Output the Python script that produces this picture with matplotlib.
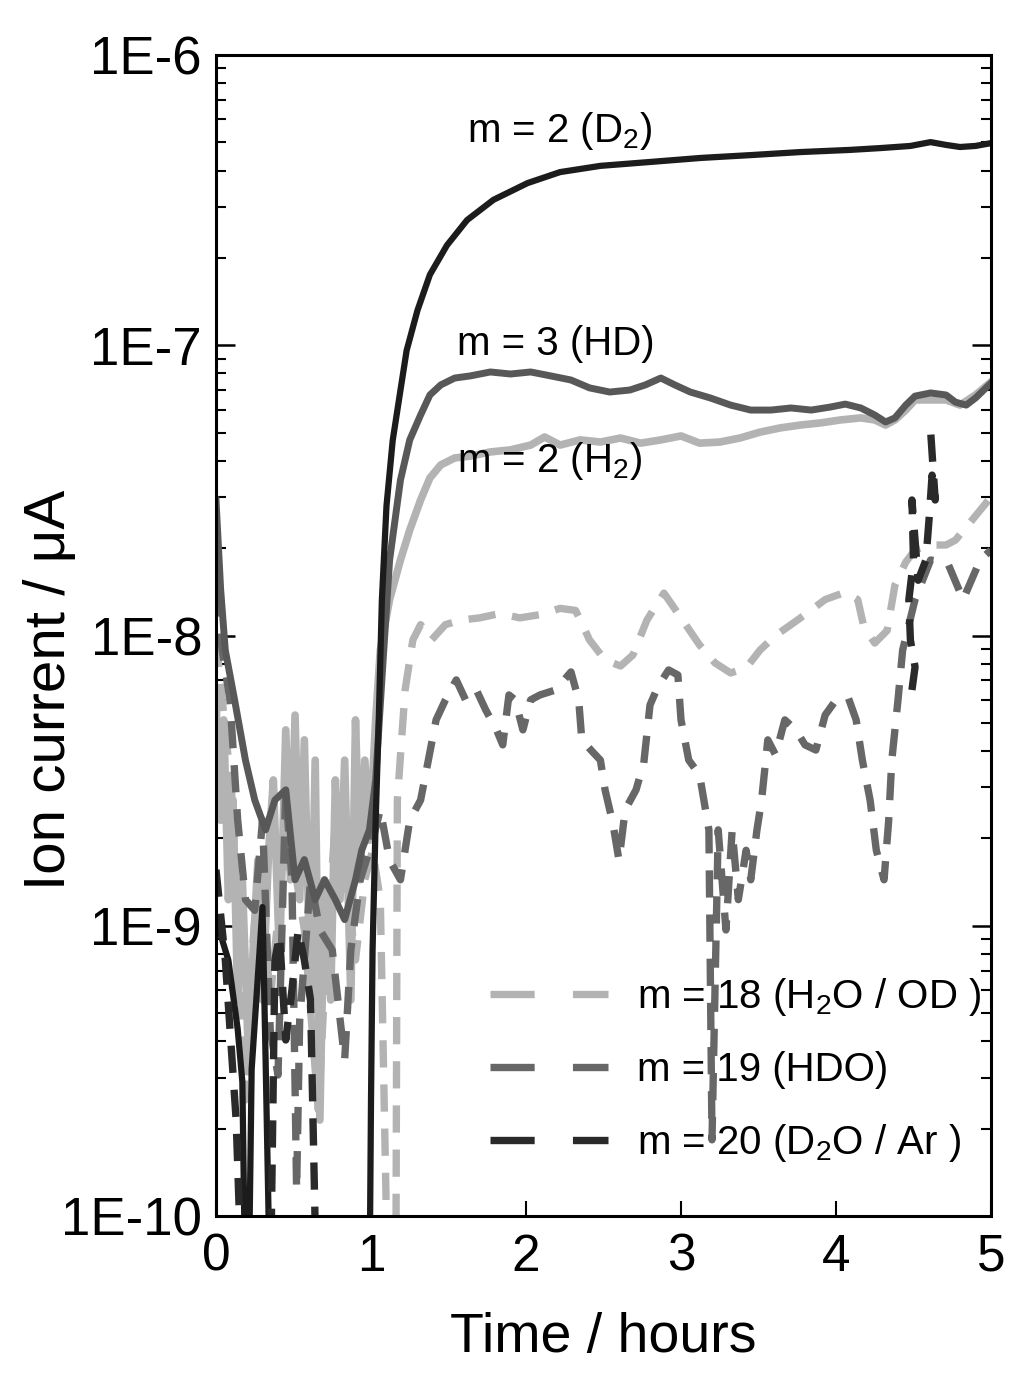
import numpy as np
import matplotlib
matplotlib.use("Agg")
import matplotlib.pyplot as plt

plt.rcParams['font.family'] = ['Liberation Sans', 'DejaVu Sans']
plt.rcParams['mathtext.fontset'] = 'custom'
plt.rcParams['mathtext.rm'] = 'Liberation Sans'
plt.rcParams['mathtext.it'] = 'Liberation Sans:italic'

# time in hours, ion current in uA (values below 1E-10 sit off the bottom)
d2_t = [0.00, 0.08, 0.14, 0.17, 0.19, 0.21, 0.23, 0.30, 0.32, 0.35, 0.99, 1.00, 1.01, 1.03,
        1.05, 1.07, 1.10, 1.14, 1.19, 1.23, 1.30, 1.38, 1.49, 1.62, 1.79, 2.01, 2.22, 2.48,
        2.80, 3.13, 3.45, 3.77, 4.09, 4.29, 4.48, 4.61, 4.71, 4.80, 4.90, 5.00]
d2_i = [1.05e-9, 7.6e-10, 4.4e-10, 2.9e-10, 5e-11, 5e-11, 3.2e-10, 1.16e-9, 3.45e-10, 5e-11,
        5e-11, 2.5e-10, 8.2e-10, 2.3e-9, 5.1e-9, 1.32e-8, 2.8e-8, 4.7e-8, 7.0e-8, 9.6e-8,
        1.32e-7, 1.75e-7, 2.21e-7, 2.70e-7, 3.17e-7, 3.62e-7, 3.95e-7, 4.15e-7, 4.28e-7,
        4.42e-7, 4.52e-7, 4.63e-7, 4.71e-7, 4.78e-7, 4.86e-7, 5.01e-7, 4.90e-7, 4.82e-7,
        4.86e-7, 4.97e-7]

hd_t = [0.00, 0.03, 0.06, 0.12, 0.19, 0.25, 0.32, 0.38, 0.45, 0.51, 0.57, 0.64, 0.70, 0.77,
        0.83, 0.90, 0.94, 0.99, 1.03, 1.07, 1.12, 1.19, 1.25, 1.32, 1.38, 1.45, 1.54, 1.64,
        1.77, 1.90, 2.03, 2.16, 2.29, 2.41, 2.54, 2.67, 2.77, 2.87, 2.96, 3.06, 3.19, 3.32,
        3.45, 3.58, 3.71, 3.84, 3.96, 4.06, 4.16, 4.25, 4.32, 4.38, 4.45, 4.51, 4.61, 4.71,
        4.77, 4.84, 4.90, 5.00]
hd_i = [2.93e-8, 1.44e-8, 8.9e-9, 6.0e-9, 3.72e-9, 2.71e-9, 2.14e-9, 2.71e-9, 2.94e-9, 1.44e-9,
        1.69e-9, 1.23e-9, 1.44e-9, 1.23e-9, 1.05e-9, 1.44e-9, 1.82e-9, 2.14e-9, 3.18e-9, 7.03e-9,
        1.82e-8, 3.43e-8, 4.72e-8, 5.75e-8, 6.74e-8, 7.30e-8, 7.71e-8, 7.84e-8, 8.09e-8, 7.96e-8,
        8.09e-8, 7.84e-8, 7.59e-8, 7.13e-8, 6.90e-8, 7.01e-8, 7.30e-8, 7.71e-8, 7.30e-8, 6.90e-8,
        6.58e-8, 6.22e-8, 5.98e-8, 5.98e-8, 6.08e-8, 5.98e-8, 6.12e-8, 6.27e-8, 6.08e-8, 5.75e-8,
        5.44e-8, 5.62e-8, 6.22e-8, 6.68e-8, 6.85e-8, 6.74e-8, 6.37e-8, 6.22e-8, 6.58e-8, 7.41e-8]

h2_t = [0.00, 0.03, 0.05, 0.08, 0.11, 0.14, 0.17, 0.21, 0.24, 0.27, 0.30, 0.34, 0.37, 0.41,
        0.45, 0.48, 0.51, 0.54, 0.57, 0.61, 0.64, 0.67, 0.70, 0.74, 0.77, 0.80, 0.83, 0.87,
        0.90, 0.93, 0.96, 0.99, 1.03, 1.06, 1.12, 1.19, 1.25, 1.32, 1.38, 1.45, 1.54, 1.64,
        1.77, 1.90, 2.03, 2.12, 2.22, 2.35, 2.48, 2.61, 2.74, 2.87, 3.00, 3.12, 3.25, 3.38,
        3.51, 3.64, 3.77, 3.90, 4.03, 4.16, 4.25, 4.32, 4.38, 4.45, 4.51, 4.61, 4.71, 4.80,
        4.90, 5.00]
h2_i = [6.0e-9, 2.31e-9, 5.12e-9, 1.23e-9, 2.71e-9, 5.55e-10, 1.44e-9, 3.45e-10, 8.25e-10,
        1.68e-9, 5.55e-10, 1.82e-9, 3.18e-9, 7.62e-10, 4.73e-9, 1.44e-9, 5.32e-9, 1.23e-9,
        4.37e-9, 5.55e-10, 3.72e-9, 2.14e-10, 1.44e-9, 5.55e-10, 3.18e-9, 1.23e-9, 3.72e-9,
        5.55e-10, 5.12e-9, 1.44e-9, 3.72e-9, 1.97e-9, 5.12e-9, 8.91e-9, 1.33e-8, 1.82e-8,
        2.31e-8, 2.93e-8, 3.49e-8, 3.87e-8, 4.09e-8, 4.15e-8, 4.29e-8, 4.36e-8, 4.53e-8,
        4.83e-8, 4.53e-8, 4.72e-8, 4.64e-8, 4.79e-8, 4.60e-8, 4.72e-8, 4.87e-8, 4.60e-8,
        4.64e-8, 4.79e-8, 5.02e-8, 5.19e-8, 5.31e-8, 5.40e-8, 5.53e-8, 5.62e-8, 5.53e-8,
        5.31e-8, 5.53e-8, 5.98e-8, 6.48e-8, 6.48e-8, 6.48e-8, 6.22e-8, 6.74e-8, 7.47e-8]

m18_t = [0.00, 0.04, 0.10, 0.15, 0.19, 0.23, 0.28, 0.35, 0.41, 0.49, 0.57, 0.66, 0.71, 0.77,
         0.84, 0.90, 0.96, 1.01, 1.06, 1.11, 1.16, 1.17, 1.22, 1.27, 1.32, 1.39, 1.48, 1.58,
         1.70, 1.83, 1.96, 2.09, 2.22, 2.32, 2.41, 2.51, 2.61, 2.69, 2.78, 2.89, 3.01, 3.12,
         3.22, 3.32, 3.42, 3.51, 3.61, 3.71, 3.80, 3.93, 4.06, 4.14, 4.18, 4.25, 4.33, 4.38,
         4.45, 4.51, 4.61, 4.71, 4.77, 4.84, 5.00]
m18_i = [9.65e-9, 6.0e-9, 2.94e-9, 8.25e-10, 2.51e-10, 7.62e-10, 1.68e-9, 5.55e-10, 1.23e-9,
         1.82e-9, 9.67e-10, 2.32e-10, 7.62e-10, 2.31e-9, 1.44e-9, 7.62e-10, 1.44e-9, 1.82e-9,
         1.23e-9, 5e-11, 5e-11, 2.71e-9, 6.49e-9, 9.65e-9, 1.09e-8, 9.65e-9, 1.09e-8, 1.13e-8,
         1.15e-8, 1.19e-8, 1.15e-8, 1.18e-8, 1.24e-8, 1.22e-8, 9.65e-9, 8.23e-9, 7.85e-9,
         8.57e-9, 1.13e-8, 1.40e-8, 1.13e-8, 9.27e-9, 8.04e-9, 7.43e-9, 7.73e-9, 8.91e-9,
         1.00e-8, 1.09e-8, 1.18e-8, 1.33e-8, 1.41e-8, 1.33e-8, 1.07e-8, 9.42e-9, 1.04e-8,
         1.49e-8, 1.79e-8, 1.97e-8, 2.05e-8, 2.05e-8, 2.13e-8, 2.36e-8, 3.00e-8]

m19_t = [0.00, 0.04, 0.09, 0.14, 0.19, 0.25, 0.30, 0.35, 0.40, 0.45, 0.49, 0.52, 0.54, 0.61,
         0.67, 0.75, 0.83, 0.87, 0.93, 1.01, 1.06, 1.12, 1.19, 1.25, 1.32, 1.37, 1.42, 1.48,
         1.55, 1.61, 1.68, 1.74, 1.81, 1.85, 1.89, 1.93, 1.98, 2.03, 2.09, 2.19, 2.29, 2.34,
         2.36, 2.43, 2.48, 2.51, 2.56, 2.60, 2.64, 2.71, 2.76, 2.80, 2.85, 2.92, 2.98, 3.00,
         3.05, 3.12, 3.18, 3.20, 3.24, 3.29, 3.33, 3.37, 3.42, 3.45, 3.49, 3.52, 3.56, 3.61,
         3.67, 3.74, 3.80, 3.87, 3.93, 4.00, 4.08, 4.13, 4.17, 4.22, 4.26, 4.31, 4.34, 4.36,
         4.40, 4.43, 4.51, 4.61, 4.72, 4.82, 4.93, 5.00]
m19_i = [1.44e-8, 8.91e-9, 6.0e-9, 2.31e-9, 1.23e-9, 1.13e-9, 2.31e-9, 4.37e-10, 3.06e-10,
         2.94e-9, 1.44e-9, 1.23e-10, 4.73e-10, 1.44e-9, 9.67e-10, 8.25e-10, 3.45e-10, 8.25e-10,
         1.44e-9, 1.97e-9, 2.51e-9, 1.68e-9, 1.44e-9, 2.31e-9, 2.71e-9, 3.72e-9, 5.12e-9,
         6.0e-9, 7.03e-9, 6.0e-9, 6.49e-9, 5.54e-9, 4.73e-9, 4.20e-9, 6.24e-9, 6.0e-9, 4.73e-9,
         6.0e-9, 6.24e-9, 6.49e-9, 7.49e-9, 6.0e-9, 4.37e-9, 3.97e-9, 3.72e-9, 2.94e-9, 2.26e-9,
         1.68e-9, 2.51e-9, 2.94e-9, 3.64e-9, 5.76e-9, 6.65e-9, 7.61e-9, 7.31e-9, 5.12e-9,
         3.72e-9, 3.31e-9, 2.14e-9, 1.83e-10, 2.14e-9, 9.67e-10, 2.14e-9, 1.23e-9, 1.82e-9,
         1.44e-9, 2.14e-9, 2.71e-9, 4.37e-9, 3.88e-9, 5.12e-9, 4.73e-9, 4.20e-9, 4.03e-9,
         5.32e-9, 6.0e-9, 6.09e-9, 5.12e-9, 3.72e-9, 2.71e-9, 1.82e-9, 1.44e-9, 2.31e-9,
         3.72e-9, 6.0e-9, 8.91e-9, 1.33e-8, 1.82e-8, 1.78e-8, 1.33e-8, 1.82e-8, 1.97e-8]

m20_t = [0.00, 0.06, 0.13, 0.17, 0.35, 0.38, 0.41, 0.45, 0.49, 0.53, 0.57, 0.61, 0.65, np.nan,
         4.49, 4.51, 4.48, 4.47, 4.50, 4.49, 4.53, 4.58, 4.60, 4.62, 4.64, 4.61]
m20_i = [1.56e-9, 7.62e-10, 2.14e-10, 5e-11, 5e-11, 7.62e-10, 9.29e-10, 4.04e-10, 6.01e-10,
         9.67e-10, 7.62e-10, 5.55e-10, 5e-11, np.nan, 6.49e-9, 7.79e-9, 9.65e-9, 1.33e-8,
         1.82e-8, 2.93e-8, 1.55e-8, 1.82e-8, 2.50e-8, 3.57e-8, 2.93e-8, 5.10e-8]

y_ticks = [1e-10, 1e-9, 1e-8, 1e-7, 1e-6]
y_labels = ['1E-10', '1E-9', '1E-8', '1E-7', '1E-6']
x_ticks = [0, 1, 2, 3, 4, 5]

fig = plt.figure(figsize=(10.24, 13.92), dpi=100)
ax = fig.add_axes([216 / 1024, 1 - 1216 / 1392, 775 / 1024, 1161 / 1392])

dash = (3.7, 2.3)
ax.plot(h2_t, h2_i, color='#b3b3b3', lw=5.5, solid_joinstyle='round')
ax.plot(m18_t, m18_i, color='#b3b3b3', lw=5.3, dashes=dash, label=r'm = 18 (H$_2$O / OD )')
ax.plot(m19_t, m19_i, color='#676767', lw=5.3, dashes=dash, label='m = 19 (HDO)')
ax.plot(hd_t, hd_i, color='#585858', lw=5, solid_joinstyle='round')
ax.plot(d2_t, d2_i, color='#1c1c1c', lw=4.5, solid_joinstyle='round')
ax.plot(m20_t, m20_i, color='#2a2a2a', lw=5.3, dashes=dash, label=r'm = 20 (D$_2$O / Ar )')

ax.set_yscale('log')
ax.set_ylim(1e-10, 1e-6)
ax.set_xlim(0, 5)
ax.set_yticks(y_ticks)
ax.set_yticklabels(y_labels)
ax.yaxis.set_minor_formatter(matplotlib.ticker.NullFormatter())
ax.set_xticks(x_ticks)
ax.set_xticklabels([str(v) for v in x_ticks])

ax.tick_params(axis='y', which='major', direction='in', left=True, right=True,
               length=14, width=1.8, labelsize=38, pad=10)
ax.tick_params(axis='y', which='minor', direction='in', left=True, right=True,
               length=7, width=1.5)
ax.tick_params(axis='x', which='major', direction='in', bottom=True, top=False,
               length=11, width=1.5, labelsize=37, pad=12)
for s in ax.spines.values():
    s.set_linewidth(2.2)

ax.set_xlabel('Time / hours', fontsize=40, labelpad=22)
ax.set_ylabel('Ion current / μA', fontsize=42)
ax.yaxis.set_label_coords(-0.179, 0.453)

ax.text(1.62, 5.0e-7, r'm = 2 (D$_2$)', fontsize=29, va='baseline')
ax.text(1.556, 9.25e-8, 'm = 3 (HD)', fontsize=29, va='baseline')
ax.text(1.556, 3.66e-8, r'm = 2 (H$_2$)', fontsize=29, va='baseline')

leg = ax.legend(loc='upper left', bbox_to_anchor=(0.3535, 0.207), frameon=False,
                fontsize=29, handlelength=2.93, handletextpad=0.72, labelspacing=0.82,
                borderpad=0, borderaxespad=0)
for ln in leg.get_lines():
    ln.set_dashes((6.0, 5.2))

fig.savefig('out.png', dpi=100)
